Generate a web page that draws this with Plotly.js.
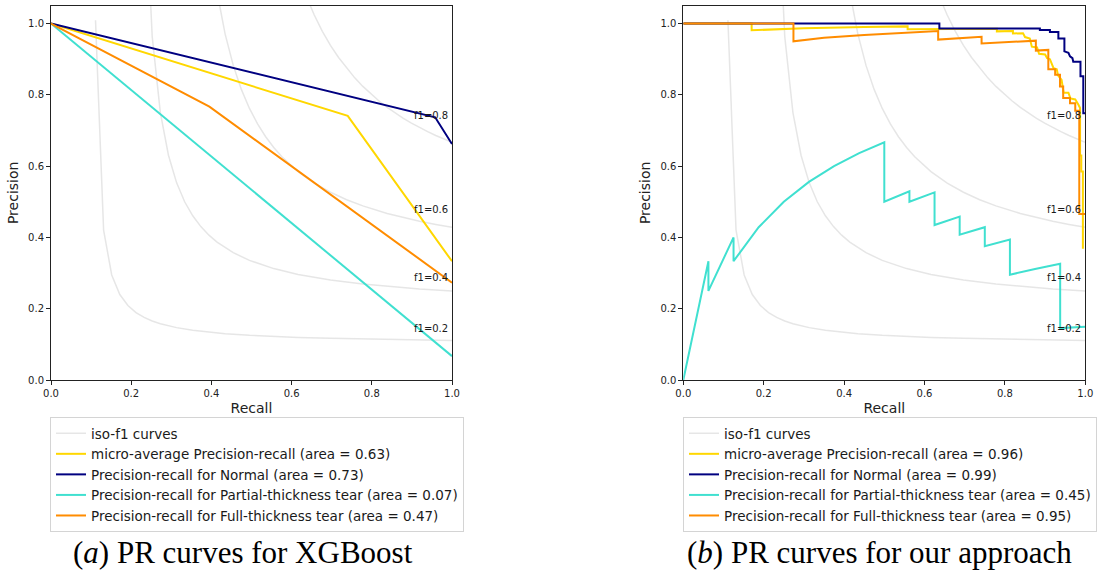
<!DOCTYPE html>
<html>
<head>
<meta charset="utf-8">
<script src="https://cdn.plot.ly/plotly-3.0.1.min.js"></script>
<style>html,body{margin:0;padding:0;background:#fff}#chart{width:1098px;height:573px}</style>
</head>
<body>
<div id="chart"></div>
<script>
// ---------- iso-f1 reference curves ----------
const isoF1Values = [0.2, 0.4, 0.6, 0.8];
const isoRecall02 = [0.1110,0.1312,0.1514,0.1716,0.1918,0.2120,0.2322,0.2524,0.2727,0.2929,0.3131,0.3535,0.3939,0.4343,0.4949,0.5555,0.6161,0.6969,0.7777,0.8585,0.9191,1.0];
const isoPrec02   = [1.009,0.4205,0.2946,0.2397,0.2089,0.1893,0.1756,0.1656,0.1579,0.1518,0.1469,0.1394,0.1340,0.1299,0.1253,0.1220,0.1194,0.1168,0.1148,0.1132,0.1122,0.1111];
const isoRecall04 = [0.2120,0.2322,0.2524,0.2727,0.2929,0.3131,0.3333,0.3535,0.3737,0.3939,0.4141,0.4343,0.4545,0.4949,0.5555,0.6161,0.6969,0.7777,0.8585,0.9191,1.0];
const isoPrec04   = [3.533,1.442,0.9634,0.7502,0.6306,0.5537,0.5000,0.4606,0.4303,0.4063,0.3868,0.3707,0.3572,0.3356,0.3125,0.2961,0.2805,0.2692,0.2607,0.2556,0.25];
const isoRecall06 = [0.3131,0.3333,0.3535,0.3737,0.3939,0.4141,0.4343,0.4545,0.4747,0.4949,0.5151,0.5353,0.5555,0.5757,0.5959,0.6161,0.6565,0.6969,0.7373,0.7777,0.8383,0.8989,0.9191,0.9595,1.0];
const isoPrec06   = [7.17,3.0,1.982,1.521,1.258,1.0888,0.9701,0.8825,0.8152,0.7618,0.7184,0.6825,0.6523,0.6264,0.6042,0.5847,0.5525,0.5268,0.5058,0.4884,0.4672,0.4503,0.4454,0.4365,0.4286];
const isoRecall08 = [0.4141,0.4343,0.4545,0.4747,0.4949,0.5151,0.5353,0.5555,0.5757,0.5959,0.6161,0.6363,0.6565,0.6767,0.6969,0.7171,0.7373,0.7575,0.7777,0.7979,0.8181,0.8383,0.8585,0.8787,0.8989,0.9191,0.9393,0.9595,0.9797,1.0];
const isoPrec08   = [11.75,5.065,3.336,2.542,2.086,1.790,1.5826,1.4289,1.3106,1.2167,1.1404,1.0771,1.0238,0.9782,0.9389,0.9046,0.8744,0.8476,0.8236,0.8021,0.7827,0.7650,0.7490,0.7342,0.7207,0.7082,0.6967,0.6860,0.6760,0.6667];

// ---------- (a) XGBoost ----------
const xgbMicroRecall = [0, 0.74, 1.0];
const xgbMicroPrec   = [1.0, 0.741, 0.333];
const xgbNormalRecall = [0, 0.958, 1.0];
const xgbNormalPrec   = [1.0, 0.737, 0.662];
const xgbPartialRecall = [0, 1.0];
const xgbPartialPrec   = [1.0, 0.067];
const xgbFullRecall = [0, 0.395, 1.0];
const xgbFullPrec   = [1.0, 0.767, 0.273];
const xgbAreas = ["0.63", "0.73", "0.07", "0.47"];

// ---------- (b) our approach ----------
const ourMicroRecall = [0,0.17,0.17,0.30,0.45,0.558,0.558,0.78,0.78,0.82,0.82,0.845,0.85,0.862,0.867,0.88,0.885,0.90,0.905,0.912,0.921,0.929,0.932,0.941,0.946,0.958,0.963,0.975,0.983,0.987,0.987,0.990,0.990,0.994,0.994];
const ourMicroPrec   = [1.0,1.0,0.981,0.987,0.990,0.992,0.984,0.985,0.978,0.979,0.972,0.973,0.962,0.958,0.935,0.933,0.915,0.913,0.903,0.900,0.875,0.872,0.855,0.842,0.806,0.806,0.790,0.787,0.772,0.763,0.630,0.630,0.585,0.585,0.368];
const ourNormalRecall = [0,0.637,0.637,0.887,0.887,0.912,0.912,0.933,0.933,0.948,0.948,0.958,0.962,0.968,0.970,0.988,0.988,0.995,0.995,1.0];
const ourNormalPrec   = [1.0,1.0,0.986,0.986,0.982,0.982,0.976,0.976,0.958,0.958,0.922,0.918,0.908,0.903,0.893,0.893,0.852,0.852,0.748,0.748];
const ourPartialRecall = [0,0.0625,0.0625,0.125,0.125,0.1875,0.25,0.3125,0.375,0.4375,0.5,0.5,0.5625,0.5625,0.625,0.625,0.6875,0.6875,0.75,0.75,0.8125,0.8125,0.875,0.9375,0.9375,1.0];
const ourPartialPrec   = [0,0.3333,0.25,0.4,0.3333,0.4286,0.5,0.5556,0.6,0.6364,0.6667,0.5,0.5294,0.5,0.5263,0.4348,0.4583,0.4074,0.4286,0.375,0.3939,0.2955,0.3111,0.3261,0.1456,0.1495];
const ourFullRecall = [0,0.274,0.274,0.35,0.45,0.55,0.634,0.634,0.742,0.742,0.877,0.877,0.908,0.908,0.925,0.925,0.937,0.937,0.945,0.945,0.962,0.962,0.975,0.975,0.985,0.985,1.0];
const ourFullPrec   = [1.0,1.0,0.950,0.960,0.968,0.974,0.979,0.955,0.963,0.944,0.952,0.924,0.926,0.872,0.872,0.856,0.856,0.823,0.823,0.791,0.791,0.776,0.776,0.755,0.755,0.466,0.466];
const ourAreas = ["0.96", "0.99", "0.45", "0.95"];

const classLabels = ["micro-average Precision-recall", "Precision-recall for Normal", "Precision-recall for Partial-thickness tear", "Precision-recall for Full-thickness tear"];
const captions = ["(<i>a</i>) PR curves for XGBoost", "(<i>b</i>) PR curves for our approach"];

// ---------- build ----------
const colors = ["#FFD700", "#000080", "#40E0D0", "#FF8C00"];
const isoR = [isoRecall02, isoRecall04, isoRecall06, isoRecall08];
const isoP = [isoPrec02, isoPrec04, isoPrec06, isoPrec08];
const panels = [
  {xa: "x", ya: "y", leg: "legend", areas: xgbAreas,
   rec: [xgbMicroRecall, xgbNormalRecall, xgbPartialRecall, xgbFullRecall],
   pre: [xgbMicroPrec, xgbNormalPrec, xgbPartialPrec, xgbFullPrec]},
  {xa: "x2", ya: "y2", leg: "legend2", areas: ourAreas,
   rec: [ourMicroRecall, ourNormalRecall, ourPartialRecall, ourFullRecall],
   pre: [ourMicroPrec, ourNormalPrec, ourPartialPrec, ourFullPrec]}
];

const traces = [];
const annotations = [];
panels.forEach((pn) => {
  isoF1Values.forEach((f, k) => {
    traces.push({
      x: isoR[k], y: isoP[k], xaxis: pn.xa, yaxis: pn.ya, mode: "lines",
      line: {color: "rgba(128,128,128,0.2)", width: 1.5},
      name: "iso-f1 curves", legend: pn.leg, legendgroup: "iso" + pn.xa,
      showlegend: k === 0, hoverinfo: "skip"
    });
    const idx = isoR[k].indexOf(0.9191);
    annotations.push({
      xref: pn.xa, yref: pn.ya, x: 0.9, y: isoP[k][idx] + 0.02,
      text: "f1=" + f.toFixed(1), showarrow: false, xanchor: "left", yanchor: "bottom",
      yshift: -3, font: {family: "DejaVu Sans", size: 10, color: "#1a1a1a"}
    });
  });
  for (let c = 0; c < 4; c++) {
    traces.push({
      x: pn.rec[c], y: pn.pre[c], xaxis: pn.xa, yaxis: pn.ya, mode: "lines",
      line: {color: colors[c], width: 2},
      name: classLabels[c] + " (area = " + pn.areas[c] + ")", legend: pn.leg
    });
  }
});

const capX = [243 / 1098, 879 / 1098];
captions.forEach((t, i) => annotations.push({
  xref: "paper", yref: "paper", x: capX[i], y: 1 - 552 / 573, xanchor: "center", yanchor: "middle",
  text: t, showarrow: false, font: {family: "Liberation Serif", size: 31, color: "#000"}
}));

const axisCommon = {
  range: [0, 1], tickvals: [0, 0.2, 0.4, 0.6, 0.8, 1.0], tickformat: ".1f",
  showgrid: false, zeroline: false, showline: true, mirror: true, linecolor: "#222", linewidth: 1,
  ticks: "outside", ticklen: 4, tickwidth: 1, tickcolor: "#222",
  tickfont: {family: "DejaVu Sans", size: 10, color: "#222"}, fixedrange: true
};
const yCommon = Object.assign({}, axisCommon, {range: [0, 1.05]});
const yDom = [1 - 380 / 573, 1 - 5.7 / 573];
const legendCommon = {
  xanchor: "left", yanchor: "top", y: 1 - 417 / 573, xref: "paper", yref: "paper",
  bgcolor: "#ffffff", bordercolor: "#d4d4d4", borderwidth: 1,
  font: {family: "DejaVu Sans", size: 13.5, color: "#1a1a1a"}, tracegroupgap: 0
};

const layout = {
  width: 1098, height: 573, margin: {l: 0, r: 0, t: 0, b: 0},
  paper_bgcolor: "#fff", plot_bgcolor: "#fff", showlegend: true,
  font: {family: "DejaVu Sans", color: "#222"},
  xaxis: Object.assign({}, axisCommon, {domain: [51 / 1098, 452 / 1098], anchor: "y",
    title: {text: "Recall", font: {size: 14, color: "#222"}, standoff: 5}}),
  yaxis: Object.assign({}, yCommon, {domain: yDom, anchor: "x",
    title: {text: "Precision", font: {size: 14, color: "#222"}, standoff: 6}}),
  xaxis2: Object.assign({}, axisCommon, {domain: [683.3 / 1098, 1085.3 / 1098], anchor: "y2",
    title: {text: "Recall", font: {size: 14, color: "#222"}, standoff: 5}}),
  yaxis2: Object.assign({}, yCommon, {domain: yDom, anchor: "x2",
    title: {text: "Precision", font: {size: 14, color: "#222"}, standoff: 6}}),
  legend: Object.assign({}, legendCommon, {x: 50 / 1098}),
  legend2: Object.assign({}, legendCommon, {x: 683 / 1098}),
  annotations: annotations
};

Plotly.newPlot("chart", traces, layout, {staticPlot: true, displayModeBar: false});
</script>
</body>
</html>
